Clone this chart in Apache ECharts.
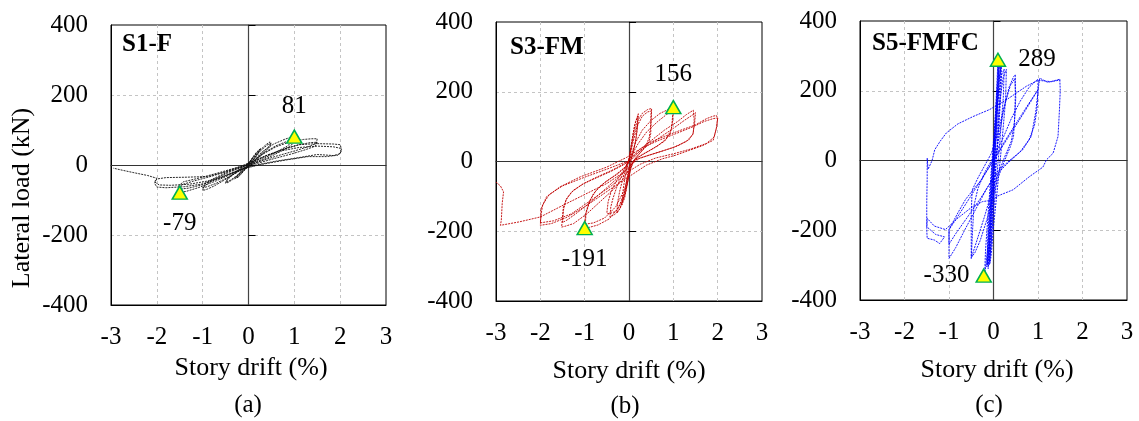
<!DOCTYPE html>
<html>
<head>
<meta charset="utf-8">
<script src="https://cdn.jsdelivr.net/npm/echarts@6/dist/echarts.min.js"></script>
<style>
html,body{margin:0;padding:0;background:#fff;}
#chart{width:1139px;height:421px;}
</style>
</head>
<body>
<div id="chart"></div>
<script>
// ---------- data (story drift %, lateral load kN) ----------
var xTicks = [-3, -2, -1, 0, 1, 2, 3];
var yTicks = [-400, -200, 0, 200, 400];
var specimenNames = ['S1-F', 'S3-FM', 'S5-FMFC'];
var captions = ['(a)', '(b)', '(c)'];

var s1Curve = [
 [0,0],[0.08,18],[0.17,33],[0.25,45],[0.22,36],[0.12,18],[0.03,3],[-0.07,-12],[-0.16,-26],[-0.25,-38],[-0.22,-30],[-0.12,-14],[-0.02,0],
 [0.08,20],[0.17,36],[0.27,48],[0.21,34],[0.1,14],[0,0],[-0.1,-16],[-0.2,-30],[-0.3,-40],[-0.22,-26],[-0.1,-8],[0,5],
 [0.12,24],[0.25,42],[0.38,58],[0.47,66],[0.5,68],[0.47,57],[0.38,44],[0.25,28],[0.12,12],[0.02,-2],[-0.1,-15],[-0.22,-28],[-0.35,-42],[-0.45,-50],[-0.5,-52],[-0.46,-42],[-0.36,-30],[-0.24,-17],[-0.1,-4],[0.02,8],
 [0.15,26],[0.3,45],[0.42,58],[0.5,62],[0.45,50],[0.33,34],[0.18,16],[0.04,0],[-0.1,-14],[-0.25,-30],[-0.4,-44],[-0.5,-50],[-0.45,-38],[-0.33,-25],[-0.18,-11],[-0.04,2],
 [0.15,20],[0.32,40],[0.55,60],[0.8,74],[0.92,79],[1.0,81],[0.96,66],[0.82,52],[0.62,38],[0.38,22],[0.12,6],[-0.08,-8],[-0.3,-25],[-0.55,-45],[-0.75,-60],[-0.9,-69],[-1.0,-73],[-0.96,-60],[-0.8,-45],[-0.58,-30],[-0.35,-17],[-0.1,-4],[0.05,6],
 [0.3,32],[0.6,55],[0.85,68],[1.0,72],[0.94,57],[0.72,40],[0.45,22],[0.15,6],[-0.1,-10],[-0.4,-32],[-0.7,-52],[-0.9,-62],[-1.0,-65],[-0.94,-52],[-0.72,-36],[-0.45,-20],[-0.15,-6],[0.05,5],
 [0.3,30],[0.6,52],[0.9,66],[1.2,73],[1.38,75],[1.5,75],[1.48,62],[1.3,52],[1.0,40],[0.6,25],[0.2,8],[0,-2],[-0.3,-22],[-0.7,-45],[-1.1,-65],[-1.35,-75],[-1.5,-79],[-1.55,-70],[-1.45,-56],[-1.2,-46],[-0.8,-32],[-0.4,-15],[0,2],
 [0.35,25],[0.75,45],[1.1,58],[1.35,64],[1.5,65],[1.46,54],[1.25,44],[0.95,32],[0.55,18],[0.15,3],[-0.2,-14],[-0.6,-36],[-1.0,-56],[-1.3,-66],[-1.5,-69],[-1.53,-60],[-1.42,-48],[-1.1,-38],[-0.7,-24],[-0.3,-9],[0.05,3],
 [0.4,28],[0.8,46],[1.1,58],[1.5,61],[1.85,60],[2.0,58],[2.03,45],[2.0,32],[1.85,27],[1.5,30],[1.0,19],[0.6,11],[0.2,1],[-0.2,-14],[-0.6,-36],[-1.0,-54],[-1.4,-62],[-1.8,-65],[-2.0,-63],[-2.05,-52],[-2.0,-40],[-1.8,-36],[-1.4,-35],[-0.9,-33],[-0.5,-20],[-0.1,0],
 [0.3,22],[0.7,40],[1.1,50],[1.5,54],[1.85,52],[2.0,48],[2.02,38],[1.95,28],[1.7,24],[1.3,24],[0.8,14],[0.3,2],[-0.1,-10],[-0.5,-30],[-0.9,-46],[-1.3,-55],[-1.7,-58],[-1.95,-57],[-2.05,-48],[-2.0,-38],
 [-2.2,-30],[-2.5,-22],[-2.75,-15],[-2.95,-9]
];

var s3Curve = [
 [0,0],[0.03,30],[0.08,70],[0.13,105],[0.18,125],[0.21,137],[0.2,110],[0.17,75],[0.12,40],[0.06,10],[0.02,-15],[-0.02,-45],[-0.06,-80],[-0.1,-105],[-0.14,-118],[-0.16,-125],[-0.15,-100],[-0.12,-70],[-0.08,-40],[-0.03,-12],[0.01,10],
 [0.05,45],[0.1,85],[0.15,115],[0.2,130],[0.19,100],[0.15,60],[0.09,25],[0.03,0],[-0.02,-30],[-0.08,-75],[-0.15,-115],[-0.22,-138],[-0.27,-148],[-0.26,-120],[-0.21,-85],[-0.14,-50],[-0.07,-20],[-0.01,5],
 [0.05,40],[0.12,85],[0.2,118],[0.3,138],[0.42,149],[0.51,152],[0.5,120],[0.49,80],[0.45,56],[0.35,38],[0.22,20],[0.1,2],[0.04,-20],[-0.02,-55],[-0.1,-100],[-0.2,-135],[-0.32,-152],[-0.43,-159],[-0.41,-130],[-0.36,-105],[-0.28,-75],[-0.18,-45],[-0.08,-18],[0,2],
 [0.08,50],[0.18,100],[0.3,130],[0.42,142],[0.5,145],[0.49,105],[0.46,70],[0.38,45],[0.25,25],[0.12,5],[0.04,-20],[-0.05,-70],[-0.15,-115],[-0.3,-143],[-0.45,-150],[-0.5,-148],[-0.47,-115],[-0.4,-85],[-0.28,-55],[-0.15,-30],[-0.03,-5],
 [0.05,20],[0.15,55],[0.3,90],[0.5,118],[0.7,138],[0.9,150],[1.0,156],[0.98,125],[0.96,94],[0.85,66],[0.65,45],[0.45,30],[0.2,12],[0.05,-5],[-0.02,-40],[-0.1,-90],[-0.25,-135],[-0.45,-165],[-0.7,-182],[-0.9,-189],[-1.0,-191],[-0.98,-170],[-0.97,-150],[-0.88,-112],[-0.8,-92],[-0.65,-70],[-0.45,-52],[-0.25,-35],[-0.05,-12],
 [0.05,15],[0.2,50],[0.4,85],[0.65,115],[0.85,135],[1.0,145],[0.98,110],[0.93,80],[0.8,58],[0.55,38],[0.3,20],[0.08,0],[0,-30],[-0.1,-80],[-0.3,-130],[-0.55,-162],[-0.8,-176],[-1.0,-180],[-0.98,-150],[-0.9,-115],[-0.75,-85],[-0.55,-60],[-0.3,-38],[-0.08,-15],
 [0,5],[0.2,30],[0.5,60],[0.8,90],[1.1,115],[1.3,135],[1.45,147],[1.49,149],[1.47,120],[1.45,80],[1.35,62],[1.1,45],[0.8,32],[0.45,18],[0.15,5],[0.02,-15],[-0.1,-45],[-0.35,-80],[-0.65,-115],[-0.95,-150],[-1.25,-178],[-1.45,-186],[-1.52,-188],[-1.5,-160],[-1.48,-130],[-1.4,-105],[-1.25,-82],[-1.0,-62],[-0.7,-45],[-0.4,-28],[-0.1,-8],
 [0.05,10],[0.3,35],[0.65,65],[1.0,95],[1.25,118],[1.45,135],[1.5,140],[1.48,110],[1.44,78],[1.3,58],[1.0,40],[0.6,24],[0.25,10],[0.05,-8],[-0.15,-35],[-0.5,-75],[-0.9,-120],[-1.2,-150],[-1.4,-168],[-1.5,-175],[-1.48,-140],[-1.42,-110],[-1.3,-88],[-1.05,-65],[-0.75,-46],[-0.4,-26],[-0.1,-6],
 [0.1,10],[0.4,51],[0.8,72],[1.15,89],[1.5,105],[1.75,123],[1.9,130],[1.97,132],[2.0,124],[1.97,95],[1.9,61],[1.65,45],[1.36,32],[1.05,18],[0.76,8],[0.4,-10],[0.1,-35],[-0.2,-60],[-0.6,-95],[-1.0,-130],[-1.4,-160],[-1.75,-178],[-2.0,-183],[-1.99,-160],[-1.99,-138],[-1.86,-101],[-1.56,-73],[-1.1,-44],[-0.5,-16],[-0.05,12],
 [0.3,40],[0.7,62],[1.1,82],[1.45,100],[1.7,115],[1.9,123],[2.0,125],[1.98,100],[1.92,70],[1.75,52],[1.4,36],[1.0,22],[0.6,10],[0.25,-8],[0,-28],[-0.4,-70],[-0.9,-115],[-1.3,-150],[-1.7,-170],[-2.0,-176],[-1.98,-150],[-1.95,-125],[-1.8,-95],[-1.5,-70],[-1.0,-45],[-0.5,-22],[-0.05,0],
 [-0.05,-25],[-0.5,-63],[-1.1,-101],[-1.48,-125],[-2.0,-159],[-2.47,-173],[-2.9,-183],[-2.88,-168],[-2.86,-120],[-2.83,-87],[-2.9,-70],[-3.0,-59]
];

var s5Curve = [
 [0,0],[0.04,120],[0.08,230],[0.1,289],[0.09,230],[0.05,120],[0,0],[-0.06,-120],[-0.12,-240],[-0.2,-330],[-0.18,-260],[-0.12,-150],[-0.05,-30],
 [0.02,90],[0.08,200],[0.13,270],[0.12,210],[0.07,100],[0,-20],[-0.06,-140],[-0.1,-230],[-0.14,-300],[-0.12,-220],[-0.07,-110],[-0.01,20],
 [0.06,140],[0.12,230],[0.18,275],[0.17,200],[0.11,80],[0.03,-50],[-0.04,-170],[-0.09,-260],[-0.12,-310],[-0.1,-220],[-0.05,-100],[0.02,40],
 [0.1,170],[0.18,245],[0.24,262],[0.22,180],[0.14,50],[0.05,-80],[-0.02,-180],[-0.07,-270],[-0.1,-300],[-0.08,-210],[-0.02,-90],[0.06,60],
 [0.14,170],[0.22,240],[0.29,261],[0.27,170],[0.18,40],[0.08,-90],[0,-190],[-0.05,-270],[-0.08,-295],[-0.05,-200],[0.01,-60],
 [0.05,80],[0.09,200],[0.12,280],[0.1,190],[0.05,60],[-0.02,-100],[-0.09,-240],[-0.15,-305],[-0.12,-200],[-0.06,-70],
 [0.02,60],[0.1,190],[0.16,268],[0.14,170],[0.08,30],[0,-120],[-0.06,-250],[-0.1,-288],[-0.07,-180],[-0.02,-50],
 [0.1,50],[0.22,140],[0.35,210],[0.45,240],[0.49,246],[0.49,190],[0.48,130],[0.45,69],[0.38,40],[0.25,0],[0.1,-50],[0,-100],[-0.15,-170],[-0.3,-230],[-0.42,-265],[-0.5,-278],[-0.5,-220],[-0.5,-150],[-0.48,-85],[-0.35,-50],[-0.2,-15],[-0.05,20],
 [0.1,80],[0.25,160],[0.38,215],[0.48,235],[0.5,240],[0.5,180],[0.47,110],[0.4,55],[0.25,10],[0.1,-40],[-0.05,-95],[-0.2,-160],[-0.35,-220],[-0.45,-260],[-0.5,-281],[-0.47,-200],[-0.44,-130],[-0.35,-80],[-0.2,-35],[0,10],
 [0.2,60],[0.4,120],[0.6,170],[0.8,210],[0.95,228],[1.0,233],[1.0,197],[0.95,140],[0.85,69],[0.65,30],[0.36,0],[0.1,-30],[-0.15,-80],[-0.4,-140],[-0.65,-200],[-0.85,-250],[-1.0,-281],[-1.0,-240],[-1.0,-198],[-0.8,-150],[-0.63,-112],[-0.4,-75],[-0.26,-54],[0,3],
 [0.25,55],[0.5,105],[0.75,155],[1.0,203],[0.98,150],[0.92,100],[0.8,60],[0.6,25],[0.3,-10],[0,-50],[-0.3,-110],[-0.6,-165],[-0.85,-210],[-1.0,-240],[-1.0,-199],[-0.7,-140],[-0.35,-70],[0,0],[0.35,70],[0.7,140],[1.0,203],
 [1.04,236],[1.22,224],[1.4,230],[1.49,233],[1.5,200],[1.48,140],[1.45,69],[1.34,21],[1.19,2],[1.11,-19],[0.81,-46],[0.44,-84],[0.07,-103],[0,-113],[-0.25,-118],[-0.5,-135],[-0.8,-165],[-1.08,-198],[-1.33,-188],[-1.49,-166],[-1.5,-200],[-1.49,-223],[-1.33,-228],[-1.21,-238],[-1.1,-219],[-1.3,-212],[-1.5,-190],[-1.5,-120],[-1.49,-50],[-1.49,7],[-1.47,-25],[-1.38,0],[-1.32,31],[-1.2,55],[-1.06,79],[-0.8,105],[-0.46,126],[-0.09,146],[0.29,174],[0.74,213],[1.0,230],[1.3,226],[1.5,231]
];

var peakDrift = [[1.0, -1.5], [1.0, -1.0], [0.1, -0.22]];
var peakLoad  = [[81, -79], [156, -191], [289, -330]];

// ---------- layout ----------
var FONT = "'Liberation Serif','Times New Roman',serif";
var grids = [
  {left: 111, top: 25, width: 275, height: 280},
  {left: 496, top: 22, width: 266, height: 279},
  {left: 860, top: 21, width: 267, height: 279}
];
var curves = [s1Curve, s3Curve, s5Curve];
var colors = ['#111111', '#c00000', '#0000ff'];
var labelPos = [
  [{position: 'top', distance: 11}, {position: 'bottom', distance: 11}],
  [{position: 'top', distance: 13}, {position: 'bottom', distance: 12}],
  [{position: 'right', distance: 12}, {position: 'left', distance: 6}]
];
var titlePos = [[122, 45], [510, 48], [872, 44]];
var xNamePos = [[251, 368], [629, 371], [997, 370]];
var capPos = [[248, 405], [625, 406], [989, 405]];

var option = {
  animation: false,
  backgroundColor: '#fff',
  grid: [], xAxis: [], yAxis: [], series: [], graphic: []
};

grids.forEach(function (g, i) {
  option.grid.push({left: g.left, top: g.top, width: g.width, height: g.height,
    show: true, borderColor: '#000', borderWidth: 1, backgroundColor: 'transparent'});
  var split = {show: true, showMinLine: false, showMaxLine: false,
    lineStyle: {color: '#c4c4c4', type: [3, 3], width: 1}};
  option.xAxis.push({
    type: 'value', gridIndex: i, min: xTicks[0], max: xTicks[xTicks.length - 1], interval: 1,
    position: 'bottom',
    axisLine: {show: true, onZero: false, lineStyle: {color: '#000', width: 1}},
    axisTick: {show: false},
    axisLabel: {show: true, margin: 20, color: '#000', fontFamily: FONT, fontSize: 25},
    splitLine: split
  });
  option.xAxis.push({
    type: 'value', gridIndex: i, min: xTicks[0], max: xTicks[xTicks.length - 1], interval: 1,
    position: 'bottom',
    axisLine: {show: true, onZero: true, lineStyle: {color: '#333', width: 1.2}},
    axisTick: {show: false}, axisLabel: {show: false}, splitLine: {show: false}
  });
  option.yAxis.push({
    type: 'value', gridIndex: i, min: yTicks[0], max: yTicks[yTicks.length - 1], interval: 200,
    position: 'left',
    axisLine: {show: true, onZero: false, lineStyle: {color: '#000', width: 1}},
    axisTick: {show: false},
    axisLabel: {show: true, margin: 23, color: '#000', fontFamily: FONT, fontSize: 25},
    splitLine: split
  });
  option.yAxis.push({
    type: 'value', gridIndex: i, min: yTicks[0], max: yTicks[yTicks.length - 1], interval: 200,
    position: 'left',
    axisLine: {show: true, onZero: true, lineStyle: {color: '#444', width: 1.2}},
    axisTick: {show: true, inside: true, length: 7, lineStyle: {color: '#000'}},
    axisLabel: {show: false}, splitLine: {show: false}
  });
  option.series.push({
    type: 'line', xAxisIndex: 2 * i, yAxisIndex: 2 * i, data: curves[i],
    showSymbol: false, symbol: 'none', smooth: false, silent: true, z: 3,
    lineStyle: {color: colors[i], width: 0.9, type: [2, 1]}
  });
  option.series.push({
    type: 'scatter', xAxisIndex: 2 * i, yAxisIndex: 2 * i, z: 5,
    symbol: 'triangle', symbolSize: [15, 13], silent: true,
    itemStyle: {color: '#ffff00', borderColor: '#00b050', borderWidth: 1.5, opacity: 1},
    data: peakDrift[i].map(function (d, k) {
      return {value: [d, peakLoad[i][k]],
        label: {show: true, position: labelPos[i][k].position, distance: labelPos[i][k].distance,
          formatter: String(peakLoad[i][k]), color: '#000', opacity: 1, fontFamily: FONT, fontSize: 25}};
    })
  });
  option.graphic.push({type: 'text', left: titlePos[i][0], top: titlePos[i][1] - 13, z: 10,
    style: {text: specimenNames[i], font: 'bold 25px ' + FONT, fill: '#000'}});
  option.graphic.push({type: 'text', x: xNamePos[i][0], y: xNamePos[i][1], z: 10,
    style: {text: 'Story drift (%)', font: '26px ' + FONT, fill: '#000', align: 'center', verticalAlign: 'middle'}});
  option.graphic.push({type: 'text', x: capPos[i][0], y: capPos[i][1], z: 10,
    style: {text: captions[i], font: '25px ' + FONT, fill: '#000', align: 'center', verticalAlign: 'middle'}});
});
option.graphic.push({type: 'text', x: 22, y: 198, rotation: Math.PI / 2, z: 10,
  style: {text: 'Lateral load (kN)', font: '26px ' + FONT, fill: '#000', align: 'center', verticalAlign: 'middle'}});

var chart = echarts.init(document.getElementById('chart'), null, {renderer: 'canvas'});
chart.setOption(option);
</script>
</body>
</html>
